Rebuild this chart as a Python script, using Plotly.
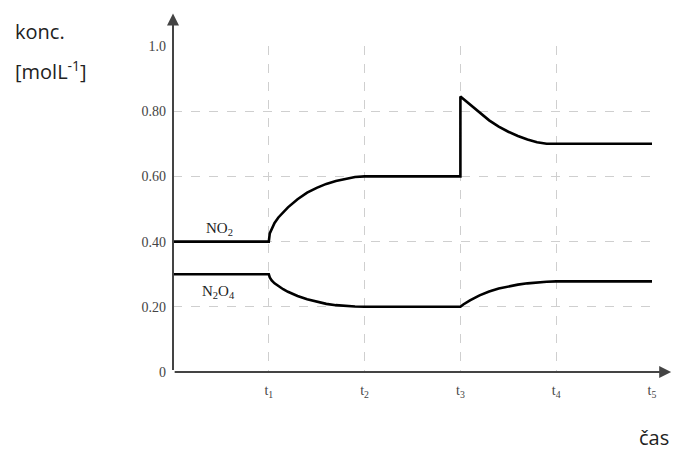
import plotly.graph_objects as go

# ---- data ----
tick_vals_x = [1, 2, 3, 4, 5]
tick_text_x = ["t<sub>1</sub>", "t<sub>2</sub>", "t<sub>3</sub>", "t<sub>4</sub>", "t<sub>5</sub>"]
tick_vals_y = [0, 0.2, 0.4, 0.6, 0.8, 1.0]
tick_text_y = ["0", "0.20", "0.40", "0.60", "0.80", "1.0"]

no2_t = [0, 1, 1.01, 1.03, 1.06, 1.1, 1.15, 1.2, 1.3, 1.4, 1.5, 1.6, 1.7, 1.8, 1.9, 2.0, 3.0, 3.0, 3.1, 3.2, 3.3, 3.4, 3.5, 3.6, 3.7, 3.8, 3.9, 5.0]
no2_c = [0.40, 0.40, 0.425, 0.44, 0.457, 0.474, 0.49, 0.505, 0.53, 0.55, 0.565, 0.577, 0.586, 0.593, 0.598, 0.60, 0.60, 0.845, 0.82, 0.795, 0.772, 0.753, 0.737, 0.724, 0.713, 0.705, 0.70, 0.70]

n2o4_t = [0, 1, 1.01, 1.03, 1.06, 1.1, 1.15, 1.2, 1.3, 1.4, 1.5, 1.6, 1.7, 1.8, 1.9, 2.0, 3.0, 3.03, 3.1, 3.2, 3.3, 3.4, 3.5, 3.6, 3.7, 3.8, 3.9, 4.0, 5.0]
n2o4_c = [0.30, 0.30, 0.29, 0.281, 0.272, 0.263, 0.254, 0.246, 0.233, 0.223, 0.215, 0.209, 0.205, 0.202, 0.201, 0.20, 0.20, 0.207, 0.22, 0.235, 0.247, 0.256, 0.263, 0.268, 0.272, 0.275, 0.277, 0.278, 0.278]

serif = "Liberation Serif"
sans = "Open Sans"

fig = go.Figure()
fig.add_trace(go.Scatter(x=no2_t, y=no2_c, mode="lines", line=dict(color="black", width=2.6), name="NO2", cliponaxis=False))
fig.add_trace(go.Scatter(x=n2o4_t, y=n2o4_c, mode="lines", line=dict(color="black", width=2.6), name="N2O4", cliponaxis=False))

annotations = [
    dict(x=0.49, y=0.438, xref="x", yref="y", text="NO<sub>2</sub>", showarrow=False,
         font=dict(family=serif, size=15, color="#222")),
    dict(x=0.48, y=0.245, xref="x", yref="y", text="N<sub>2</sub>O<sub>4</sub>", showarrow=False,
         font=dict(family=serif, size=15, color="#222")),
    # axes with arrows
    dict(x=0, y=1.1, xref="paper", yref="paper", ax=0, ay=358, axref="pixel", ayref="pixel",
         showarrow=True, arrowhead=2, arrowsize=1.2, arrowwidth=2, arrowcolor="#444", text=""),
    dict(x=1.04, y=0, xref="paper", yref="paper", ax=-498, ay=0, axref="pixel", ayref="pixel",
         showarrow=True, arrowhead=2, arrowsize=1.2, arrowwidth=2, arrowcolor="#444", text=""),
    # titles
    dict(x=-0.335, y=1.043, xref="paper", yref="paper", text="konc.", showarrow=False,
         xanchor="left", yanchor="middle", font=dict(family=sans, size=20, color="#222")),
    dict(x=-0.335, y=0.925, xref="paper", yref="paper", text="[molL<sup>-1</sup>]", showarrow=False,
         xanchor="left", yanchor="middle", font=dict(family=sans, size=20, color="#222")),
    dict(x=0.968, y=-0.2, xref="paper", yref="paper", text="čas", showarrow=False,
         xanchor="left", yanchor="middle", font=dict(family=sans, size=20, color="#222")),
]

fig.update_layout(
    width=676, height=442,
    margin=dict(l=165, r=32, t=38, b=78),
    plot_bgcolor="white", paper_bgcolor="white",
    showlegend=False,
    annotations=annotations,
    xaxis=dict(range=[0, 5], tickvals=tick_vals_x, ticktext=tick_text_x,
               showgrid=True, gridcolor="#cfcfcf", griddash="dash", gridwidth=1,
               zeroline=False, showline=False, ticks="", ticklabelstandoff=8,
               tickfont=dict(family=serif, size=14, color="#444")),
    yaxis=dict(range=[0, 1.0], tickvals=tick_vals_y, ticktext=tick_text_y,
               showgrid=True, gridcolor="#cfcfcf", griddash="dash", gridwidth=1,
               zeroline=False, showline=False, ticks="", ticklabelstandoff=6,
               tickfont=dict(family=serif, size=14, color="#444")),
)

fig.write_html("out.html")
